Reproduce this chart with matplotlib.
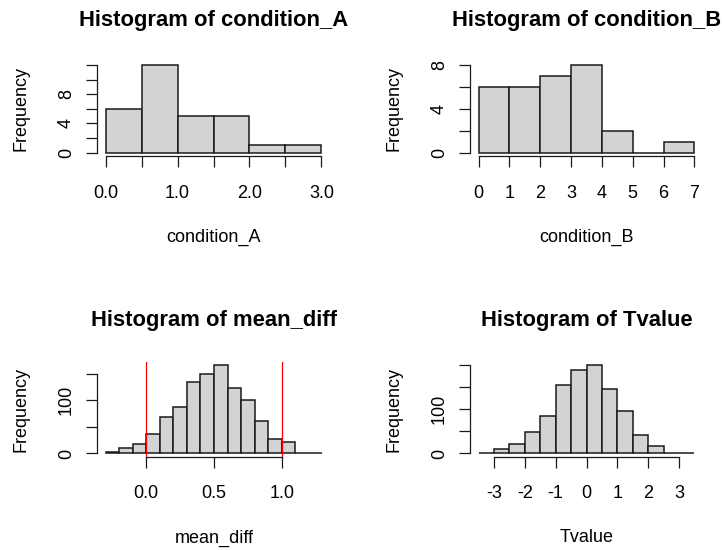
import matplotlib
matplotlib.use("Agg")
import matplotlib.pyplot as plt

plt.rcParams["font.family"] = ["Liberation Sans", "DejaVu Sans"]

# --- histogram data: bin edges and counts ---
cond_a_edges = [0.0, 0.5, 1.0, 1.5, 2.0, 2.5, 3.0]
cond_a_counts = [6, 12, 5, 5, 1, 1]

cond_b_edges = [0, 1, 2, 3, 4, 5, 6, 7]
cond_b_counts = [6, 6, 7, 8, 2, 0, 1]

mean_diff_edges = [-0.3, -0.2, -0.1, 0.0, 0.1, 0.2, 0.3, 0.4, 0.5,
                   0.6, 0.7, 0.8, 0.9, 1.0, 1.1, 1.2, 1.3]
mean_diff_counts = [2, 11, 17, 37, 69, 87, 135, 150, 166, 122, 101, 61, 27, 21, 1, 1]
mean_diff_cuts = [0.0, 1.0]

tvalue_edges = [-3.5, -3.0, -2.5, -2.0, -1.5, -1.0, -0.5, 0.0,
                0.5, 1.0, 1.5, 2.0, 2.5, 3.0, 3.5]
tvalue_counts = [2, 10, 22, 48, 85, 155, 188, 199, 144, 95, 42, 16, 2, 2]

# --- axis ticks and labels (blank where labels would collide) ---
a_xticks = [0.0, 0.5, 1.0, 1.5, 2.0, 2.5, 3.0]
a_xlabels = ["0.0", "", "1.0", "", "2.0", "", "3.0"]
a_yticks = [0, 2, 4, 6, 8, 10, 12]
a_ylabels = ["0", "", "4", "", "8", "", ""]

b_xticks = [0, 1, 2, 3, 4, 5, 6, 7]
b_xlabels = ["0", "1", "2", "3", "4", "5", "6", "7"]
b_yticks = [0, 2, 4, 6, 8]
b_ylabels = ["0", "", "4", "", "8"]

m_xticks = [0.0, 0.5, 1.0]
m_xlabels = ["0.0", "0.5", "1.0"]
m_yticks = [0, 50, 100, 150]
m_ylabels = ["0", "", "100", ""]

t_xticks = [-3, -2, -1, 0, 1, 2, 3]
t_xlabels = ["-3", "-2", "-1", "0", "1", "2", "3"]
t_yticks = [0, 50, 100, 150, 200]
t_ylabels = ["0", "", "100", "", ""]

W, H = 722, 550
BASE = 13.0   # pt, axis text
MAIN = 15.8   # pt, panel titles


def add_axes(fig, left, top, right, bottom):
    return fig.add_axes([left / W, 1 - bottom / H, (right - left) / W, (bottom - top) / H])


def r_hist(ax, edges, counts, xticks, xlabels, yticks, ylabels, name):
    widths = [b - a for a, b in zip(edges[:-1], edges[1:])]
    ax.bar(edges[:-1], counts, width=widths, align="edge",
           color="#d3d3d3", edgecolor="#1a1a1a", linewidth=1.1, zorder=2)

    # R-style 4% padding around the data range
    xpad = 0.04 * (edges[-1] - edges[0])
    ypad = 0.04 * max(counts)
    ax.set_xlim(edges[0] - xpad, edges[-1] + xpad)
    ax.set_ylim(-ypad, max(counts) + ypad)

    for s in ["top", "right"]:
        ax.spines[s].set_visible(False)
    ax.spines["left"].set_bounds(yticks[0], yticks[-1])
    ax.spines["bottom"].set_bounds(xticks[0], xticks[-1])
    for s in ["left", "bottom"]:
        ax.spines[s].set_linewidth(0.9)
        ax.spines[s].set_color("#1a1a1a")

    ax.set_xticks(xticks)
    ax.set_xticklabels(xlabels)
    ax.set_yticks(yticks)
    ax.set_yticklabels(ylabels, rotation=90, va="center")
    ax.tick_params(axis="both", length=8, width=0.9, color="#1a1a1a", labelsize=BASE)
    ax.tick_params(axis="x", pad=12.5)
    ax.tick_params(axis="y", pad=8)

    bbox = ax.get_position()
    wpx, hpx = bbox.width * W, bbox.height * H
    ax.set_xlabel(name, fontsize=BASE)
    ax.xaxis.set_label_coords(0.5, -81 / hpx)
    ax.xaxis.label.set_va("center")
    ax.set_ylabel("Frequency", fontsize=BASE)
    ax.yaxis.set_label_coords(-76 / wpx, 0.5)
    ax.yaxis.label.set_va("center")

    ax.set_title(f"Histogram of {name}", fontsize=MAIN, fontweight="bold", pad=25.5)


fig = plt.figure(figsize=(W / 100, H / 100), dpi=100)

ax1 = add_axes(fig, 97, 61.5, 330, 156.2)
r_hist(ax1, cond_a_edges, cond_a_counts, a_xticks, a_xlabels, a_yticks, a_ylabels, "condition_A")

ax2 = add_axes(fig, 470, 61.5, 703, 156.2)
r_hist(ax2, cond_b_edges, cond_b_counts, b_xticks, b_xlabels, b_yticks, b_ylabels, "condition_B")

ax3 = add_axes(fig, 97, 361.5, 331, 457)
r_hist(ax3, mean_diff_edges, mean_diff_counts, m_xticks, m_xlabels, m_yticks, m_ylabels, "mean_diff")
for x in mean_diff_cuts:
    ax3.axvline(x, color="red", linewidth=0.9, zorder=3)

ax4 = add_axes(fig, 470, 361.5, 703, 457)
r_hist(ax4, tvalue_edges, tvalue_counts, t_xticks, t_xlabels, t_yticks, t_ylabels, "Tvalue")

fig.savefig("out.png", dpi=100)
